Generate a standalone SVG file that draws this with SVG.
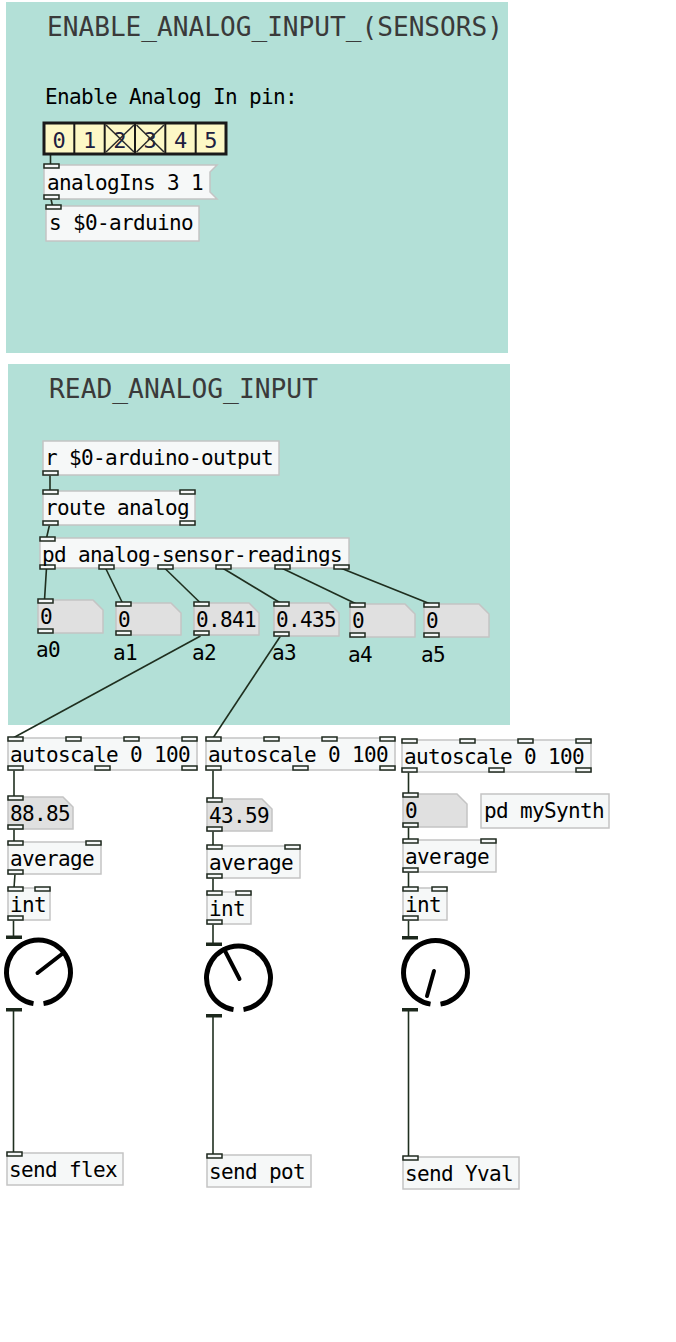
<svg xmlns="http://www.w3.org/2000/svg" width="676" height="1342" viewBox="0 0 676 1342">
<style>
.panel{fill:#b3e0d7}
.box{fill:#f6f8f8;stroke:#c4c4c4;stroke-width:1.5}
.nbox{fill:#e0e0e0;stroke:#c4c4c4;stroke-width:1.5}
.io{fill:#f6f8f8;stroke:#1f2a1f;stroke-width:1.5}
.t{font-family:"DejaVu Sans Mono","Liberation Mono",monospace;font-size:21px;letter-spacing:-0.64px;fill:#000}
.title{font-family:"DejaVu Sans Mono","Liberation Mono",monospace;font-size:26px;fill:#3a3a3a}
.wire{stroke:#1f2f1f;stroke-width:1.6;fill:none}
.knob{fill:none;stroke:#000;stroke-width:5}
.needle{stroke:#000;stroke-width:4;stroke-linecap:round}
.bar{fill:#1c281c}
.dig{font-family:"DejaVu Sans Mono","Liberation Mono",monospace;font-size:22px;fill:#202040;text-anchor:middle}
</style>
<rect id="panel1" class="panel" x="6" y="2" width="502" height="351"/>
<rect id="panel2" class="panel" x="8" y="364" width="502" height="361"/>
<g id="title1"><text class="title" x="47" y="36" textLength="456" lengthAdjust="spacingAndGlyphs">ENABLE_ANALOG_INPUT_(SENSORS)</text></g>
<g id="comment1"><text class="t" x="45" y="104">Enable Analog In pin:</text></g>
<g id="title2"><text class="title" x="49" y="398" textLength="269" lengthAdjust="spacingAndGlyphs">READ_ANALOG_INPUT</text></g>

<g id="connectors">
<line class="wire" x1="50.5" y1="155" x2="50.5" y2="165"/>
<line class="wire" x1="51" y1="199" x2="52.5" y2="206"/>
<line class="wire" x1="50" y1="475" x2="50" y2="491"/>
<line class="wire" x1="49.5" y1="525" x2="46.5" y2="538"/>
<line class="wire" x1="46.5" y1="568" x2="44.5" y2="600"/>
<line class="wire" x1="105.5" y1="568" x2="122.5" y2="603"/>
<line class="wire" x1="164.5" y1="568" x2="200.5" y2="603"/>
<line class="wire" x1="222.5" y1="568" x2="280.5" y2="603"/>
<line class="wire" x1="281.5" y1="568" x2="356.5" y2="604"/>
<line class="wire" x1="340.5" y1="568" x2="430.5" y2="604"/>
<line class="wire" x1="200.5" y1="636" x2="13" y2="738"/>
<line class="wire" x1="280.5" y1="636" x2="213" y2="738"/>
<line class="wire" x1="14" y1="770" x2="14" y2="797"/>
<line class="wire" x1="14" y1="829" x2="14" y2="842"/>
<line class="wire" x1="15" y1="874" x2="14" y2="888"/>
<line class="wire" x1="13.5" y1="920" x2="13.5" y2="936"/>
<line class="wire" x1="13.5" y1="1011" x2="13.5" y2="1153"/>
<line class="wire" x1="213" y1="770" x2="213" y2="799"/>
<line class="wire" x1="213" y1="831" x2="213" y2="846"/>
<line class="wire" x1="213" y1="878" x2="213" y2="892"/>
<line class="wire" x1="213" y1="924" x2="213" y2="943"/>
<line class="wire" x1="213" y1="1017" x2="213" y2="1155"/>
<line class="wire" x1="408.5" y1="772" x2="408.5" y2="794"/>
<line class="wire" x1="408.5" y1="827" x2="408.5" y2="840"/>
<line class="wire" x1="408.5" y1="872" x2="408.5" y2="888"/>
<line class="wire" x1="408.5" y1="920" x2="408.5" y2="937"/>
<line class="wire" x1="408.5" y1="1011" x2="408.5" y2="1157"/>
</g>

<g id="hradio">
<rect x="44" y="123" width="182" height="31" fill="#fdf8c6" stroke="#1a1a1a" stroke-width="3"/>
<g stroke="#1a1a1a" stroke-width="2">
<line x1="74.3" y1="123" x2="74.3" y2="154"/><line x1="104.7" y1="123" x2="104.7" y2="154"/><line x1="135" y1="123" x2="135" y2="154"/><line x1="165.3" y1="123" x2="165.3" y2="154"/><line x1="195.7" y1="123" x2="195.7" y2="154"/>
</g>
<text class="dig" x="59.2" y="148">0</text><text class="dig" x="89.5" y="148">1</text><text class="dig" x="119.8" y="148">2</text><text class="dig" x="150.2" y="148">3</text><text class="dig" x="180.5" y="148">4</text><text class="dig" x="210.8" y="148">5</text>
<g stroke="#2a2a2a" stroke-width="1.5">
<line x1="106" y1="125" x2="134" y2="152"/><line x1="134" y1="125" x2="106" y2="152"/>
<line x1="136.5" y1="125" x2="164" y2="152"/><line x1="164" y1="125" x2="136.5" y2="152"/>
</g>
</g>

<g id="msg_analogIns">
<path class="box" d="M44,165 H217 L210,172 V192 L217,199 H44 Z"/>
<rect class="io" x="44" y="164" width="15" height="4"/><rect class="io" x="44" y="195" width="15" height="4"/>
<text class="t" x="47" y="190">analogIns 3 1</text>
</g>
<g id="s_arduino">
<rect class="box" x="46" y="206" width="153" height="35"/>
<rect class="io" x="46" y="205" width="15" height="4"/>
<text class="t" x="49" y="230">s $0-arduino</text>
</g>

<g id="r_output">
<rect class="box" x="43" y="441" width="236" height="34"/>
<rect class="io" x="43" y="471" width="15" height="4"/>
<text class="t" x="45" y="465">r $0-arduino-output</text>
</g>
<g id="route_analog">
<rect class="box" x="43" y="491" width="152" height="34"/>
<rect class="io" x="43" y="490" width="15" height="4"/><rect class="io" x="180" y="490" width="15" height="4"/>
<rect class="io" x="43" y="521" width="15" height="4"/><rect class="io" x="180" y="521" width="15" height="4"/>
<text class="t" x="45" y="515">route analog</text>
</g>
<g id="pd_readings">
<rect class="box" x="40" y="538" width="309" height="30"/>
<rect class="io" x="40" y="537" width="15" height="4"/>
<rect class="io" x="40" y="565" width="15" height="4"/><rect class="io" x="99" y="565" width="15" height="4"/><rect class="io" x="158" y="565" width="15" height="4"/><rect class="io" x="216" y="565" width="15" height="4"/><rect class="io" x="275" y="565" width="15" height="4"/><rect class="io" x="334" y="565" width="15" height="4"/>
<text class="t" x="42" y="562">pd analog-sensor-readings</text>
</g>

<g id="nb_a0">
<path class="nbox" d="M38,600 H93 L103,610 V633 H38 Z"/>
<rect class="io" x="38" y="599" width="15" height="4"/><rect class="io" x="38" y="629" width="15" height="4"/>
<text class="t" x="40" y="624">0</text><text class="t" x="36" y="657">a0</text>
</g>
<g id="nb_a1">
<path class="nbox" d="M116,603 H171 L181,613 V635 H116 Z"/>
<rect class="io" x="116" y="602" width="15" height="4"/><rect class="io" x="116" y="631" width="15" height="4"/>
<text class="t" x="118" y="627">0</text><text class="t" x="113" y="660">a1</text>
</g>
<g id="nb_a2">
<path class="nbox" d="M194,603 H249 L259,613 V635 H194 Z"/>
<rect class="io" x="194" y="602" width="15" height="4"/><rect class="io" x="194" y="631" width="15" height="4"/>
<text class="t" x="196" y="627">0.841</text><text class="t" x="192" y="660">a2</text>
</g>
<g id="nb_a3">
<path class="nbox" d="M274,603 H329 L339,613 V636 H274 Z"/>
<rect class="io" x="274" y="602" width="15" height="4"/><rect class="io" x="274" y="632" width="15" height="4"/>
<text class="t" x="276" y="627">0.435</text><text class="t" x="272" y="660">a3</text>
</g>
<g id="nb_a4">
<path class="nbox" d="M350,604 H405 L415,614 V637 H350 Z"/>
<rect class="io" x="350" y="603" width="15" height="4"/><rect class="io" x="350" y="633" width="15" height="4"/>
<text class="t" x="352" y="628">0</text><text class="t" x="348" y="662">a4</text>
</g>
<g id="nb_a5">
<path class="nbox" d="M424,604 H479 L489,614 V637 H424 Z"/>
<rect class="io" x="424" y="603" width="15" height="4"/><rect class="io" x="424" y="633" width="15" height="4"/>
<text class="t" x="426" y="628">0</text><text class="t" x="421" y="662">a5</text>
</g>

<g id="autoscale1">
<rect class="box" x="8" y="738" width="189" height="32"/>
<rect class="io" x="8" y="737" width="15" height="4"/><rect class="io" x="66" y="737" width="15" height="4"/><rect class="io" x="124" y="737" width="15" height="4"/><rect class="io" x="182" y="737" width="15" height="4"/>
<rect class="io" x="8" y="766" width="15" height="4"/><rect class="io" x="95" y="766" width="15" height="4"/><rect class="io" x="182" y="766" width="15" height="4"/>
<text class="t" x="10" y="762">autoscale 0 100</text>
</g>
<g id="autoscale2">
<rect class="box" x="206" y="738" width="189" height="32"/>
<rect class="io" x="206" y="737" width="15" height="4"/><rect class="io" x="264" y="737" width="15" height="4"/><rect class="io" x="322" y="737" width="15" height="4"/><rect class="io" x="380" y="737" width="15" height="4"/>
<rect class="io" x="206" y="766" width="15" height="4"/><rect class="io" x="293" y="766" width="15" height="4"/><rect class="io" x="380" y="766" width="15" height="4"/>
<text class="t" x="208" y="762">autoscale 0 100</text>
</g>
<g id="autoscale3">
<rect class="box" x="402" y="740" width="189" height="32"/>
<rect class="io" x="402" y="739" width="15" height="4"/><rect class="io" x="460" y="739" width="15" height="4"/><rect class="io" x="518" y="739" width="15" height="4"/><rect class="io" x="576" y="739" width="15" height="4"/>
<rect class="io" x="402" y="768" width="15" height="4"/><rect class="io" x="489" y="768" width="15" height="4"/><rect class="io" x="576" y="768" width="15" height="4"/>
<text class="t" x="404" y="764">autoscale 0 100</text>
</g>

<g id="nb_col1">
<path class="nbox" d="M8,797 H63 L73,807 V829 H8 Z"/>
<rect class="io" x="8" y="796" width="15" height="4"/><rect class="io" x="8" y="825" width="15" height="4"/>
<text class="t" x="10" y="821">88.85</text>
</g>
<g id="nb_col2">
<path class="nbox" d="M207,799 H262 L272,809 V831 H207 Z"/>
<rect class="io" x="207" y="798" width="15" height="4"/><rect class="io" x="207" y="827" width="15" height="4"/>
<text class="t" x="209" y="823">43.59</text>
</g>
<g id="nb_col3">
<path class="nbox" d="M403,794 H457 L467,804 V827 H403 Z"/>
<rect class="io" x="403" y="793" width="15" height="4"/><rect class="io" x="403" y="823" width="15" height="4"/>
<text class="t" x="405" y="818">0</text>
</g>
<g id="pd_mySynth">
<rect class="box" x="481" y="794" width="128" height="34"/>
<text class="t" x="484" y="818">pd mySynth</text>
</g>

<g id="average1">
<rect class="box" x="8" y="842" width="93" height="32"/>
<rect class="io" x="8" y="841" width="15" height="4"/><rect class="io" x="86" y="841" width="15" height="4"/><rect class="io" x="8" y="870" width="15" height="4"/>
<text class="t" x="10" y="866">average</text>
</g>
<g id="average2">
<rect class="box" x="207" y="846" width="93" height="32"/>
<rect class="io" x="207" y="845" width="15" height="4"/><rect class="io" x="285" y="845" width="15" height="4"/><rect class="io" x="207" y="874" width="15" height="4"/>
<text class="t" x="209" y="870">average</text>
</g>
<g id="average3">
<rect class="box" x="403" y="840" width="93" height="32"/>
<rect class="io" x="403" y="839" width="15" height="4"/><rect class="io" x="481" y="839" width="15" height="4"/><rect class="io" x="403" y="868" width="15" height="4"/>
<text class="t" x="405" y="864">average</text>
</g>

<g id="int1">
<rect class="box" x="8" y="888" width="42" height="32"/>
<rect class="io" x="8" y="887" width="15" height="4"/><rect class="io" x="35" y="887" width="15" height="4"/><rect class="io" x="8" y="916" width="15" height="4"/>
<text class="t" x="10" y="912">int</text>
</g>
<g id="int2">
<rect class="box" x="207" y="892" width="44" height="32"/>
<rect class="io" x="207" y="891" width="15" height="4"/><rect class="io" x="236" y="891" width="15" height="4"/><rect class="io" x="207" y="920" width="15" height="4"/>
<text class="t" x="209" y="916">int</text>
</g>
<g id="int3">
<rect class="box" x="403" y="888" width="44" height="32"/>
<rect class="io" x="403" y="887" width="15" height="4"/><rect class="io" x="432" y="887" width="15" height="4"/><rect class="io" x="403" y="916" width="15" height="4"/>
<text class="t" x="405" y="912">int</text>
</g>

<g id="knob1">
<path class="knob" d="M33.5,1003.6 A32,32 0 1 1 43.5,1003.6"/>
<line class="needle" x1="37.5" y1="973" x2="62" y2="954"/>
<rect class="bar" x="6" y="935.5" width="16" height="3.5"/><rect class="bar" x="6" y="1008" width="16" height="3.5"/>
</g>
<g id="knob2">
<path class="knob" d="M233.5,1009.6 A32,32 0 1 1 243.5,1009.6"/>
<line class="needle" x1="239.5" y1="979" x2="224" y2="949"/>
<rect class="bar" x="206" y="942.5" width="16" height="3.5"/><rect class="bar" x="206" y="1014" width="16" height="3.5"/>
</g>
<g id="knob3">
<path class="knob" d="M430.5,1004.1 A32,32 0 1 1 440.5,1004.1"/>
<line class="needle" x1="434" y1="971" x2="427" y2="996"/>
<rect class="bar" x="402" y="936" width="16" height="3.5"/><rect class="bar" x="402" y="1008" width="16" height="3.5"/>
</g>

<g id="send_flex">
<rect class="box" x="7" y="1153" width="116" height="32"/>
<rect class="io" x="7" y="1152" width="15" height="4"/>
<text class="t" x="9" y="1177">send flex</text>
</g>
<g id="send_pot">
<rect class="box" x="207" y="1155" width="104" height="32"/>
<rect class="io" x="207" y="1154" width="15" height="4"/>
<text class="t" x="209" y="1179">send pot</text>
</g>
<g id="send_Yval">
<rect class="box" x="403" y="1157" width="116" height="32"/>
<rect class="io" x="403" y="1156" width="15" height="4"/>
<text class="t" x="405" y="1181">send Yval</text>
</g>
</svg>
